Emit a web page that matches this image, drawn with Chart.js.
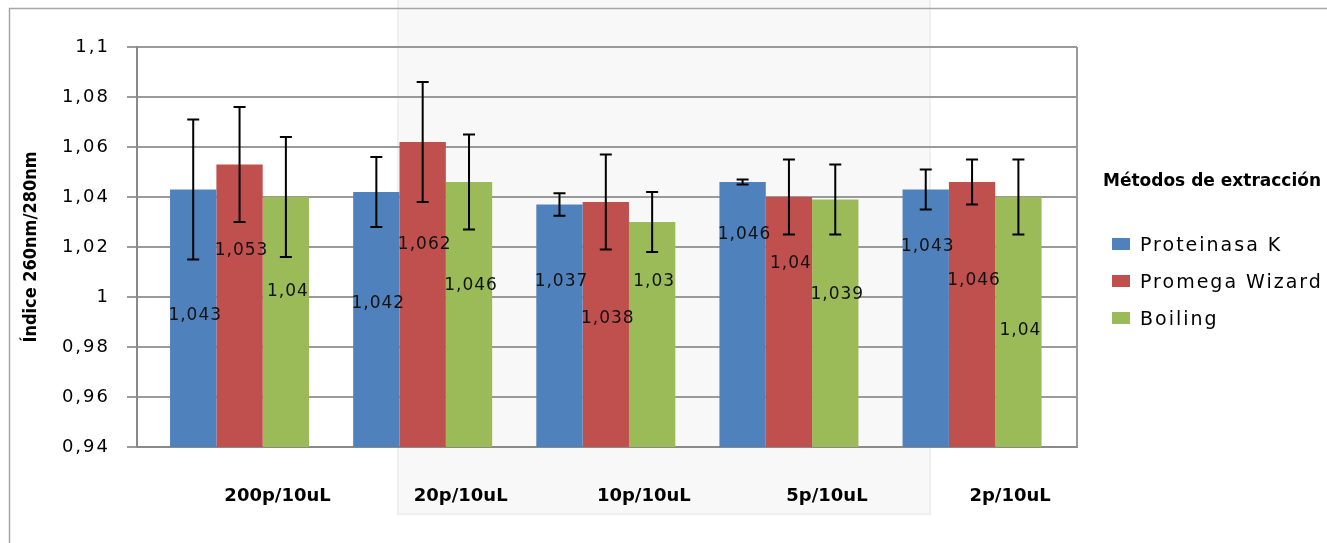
<!DOCTYPE html>
<html lang="es">
<head>
<meta charset="utf-8">
<title>Índice 260nm/280nm</title>
<script src="https://cdn.jsdelivr.net/npm/chart.js"></script>
<style>
  html, body { margin: 0; padding: 0; background: #fff; }
  #wrap { width: 1327px; height: 543px; position: relative; }
</style>
</head>
<body>
<div id="wrap"><canvas id="chart"></canvas></div>
<script>
const categories = ['200p/10uL', '20p/10uL', '10p/10uL', '5p/10uL', '2p/10uL'];
const seriesNames = ['Proteinasa K', 'Promega Wizard', 'Boiling'];
const proteinasaK = [1.043, 1.042, 1.037, 1.046, 1.043];
const promegaWizard = [1.053, 1.062, 1.038, 1.040, 1.046];
const boiling = [1.040, 1.046, 1.030, 1.039, 1.040];
const proteinasaKErr = [0.028, 0.014, 0.0045, 0.001, 0.008];
const promegaWizardErr = [0.023, 0.024, 0.019, 0.015, 0.009];
const boilingErr = [0.024, 0.019, 0.012, 0.014, 0.015];
const yTicks = [0.94, 0.96, 0.98, 1, 1.02, 1.04, 1.06, 1.08, 1.1];
const yTickLabels = ['0,94', '0,96', '0,98', '1', '1,02', '1,04', '1,06', '1,08', '1,1'];

// how far (px) each value label sits below its bar top, as in the original
const labelDrop = [
  [126, 112, 77, 53, 57],
  [86, 103, 117, 67, 99],
  [95, 104, 60, 95, 134]
];

const colors = ['#4F81BD', '#C0504D', '#9BBB59'];
const errors = [proteinasaKErr, promegaWizardErr, boilingErr];
const gridColor = '#9a9a9a';

function toPoints(values) {
  return values.map((v, i) => ({ x: i, y: v }));
}

const decorations = {
  id: 'decorations',
  beforeDraw(chart) {
    const ctx = chart.ctx;
    ctx.save();
    // faint watermark block behind the plot
    ctx.fillStyle = '#f8f8f8';
    ctx.fillRect(398, 0, 532, 514);
    ctx.strokeStyle = '#efefef';
    ctx.lineWidth = 2;
    ctx.strokeRect(398, -2, 532, 516);
    // outer chart frame
    ctx.strokeStyle = '#a6a6a6';
    ctx.lineWidth = 1.5;
    ctx.strokeRect(9.5, 8.5, 1400, 600);
    ctx.restore();

    const y = chart.scales.y;
    if (y && !y._spaced) {
      const orig = y.drawLabels.bind(y);
      y.drawLabels = function (area) {
        const c = this.ctx;
        c.save();
        c.letterSpacing = '2px';
        orig(area);
        c.restore();
      };
      y._spaced = true;
    }
  },
  afterDatasetsDraw(chart) {
    const ctx = chart.ctx;
    const area = chart.chartArea;
    const yScale = chart.scales.y;
    ctx.save();
    // right border of the plot area
    ctx.strokeStyle = gridColor;
    ctx.lineWidth = 2;
    ctx.beginPath();
    ctx.moveTo(area.right, area.top);
    ctx.lineTo(area.right, area.bottom);
    ctx.stroke();

    // error bars
    ctx.strokeStyle = '#000';
    ctx.lineWidth = 2;
    chart.data.datasets.forEach((ds, d) => {
      const meta = chart.getDatasetMeta(d);
      meta.data.forEach((bar, i) => {
        const v = ds.data[i].y;
        const e = errors[d][i];
        const top = yScale.getPixelForValue(v + e);
        const bot = yScale.getPixelForValue(v - e);
        ctx.beginPath();
        ctx.moveTo(bar.x, top);
        ctx.lineTo(bar.x, bot);
        ctx.moveTo(bar.x - 6, top);
        ctx.lineTo(bar.x + 6, top);
        ctx.moveTo(bar.x - 6, bot);
        ctx.lineTo(bar.x + 6, bot);
        ctx.stroke();
      });
    });

    // value labels
    ctx.fillStyle = '#111';
    ctx.font = '17px "DejaVu Sans"';
    ctx.letterSpacing = '1px';
    ctx.textAlign = 'center';
    ctx.textBaseline = 'middle';
    chart.data.datasets.forEach((ds, d) => {
      const meta = chart.getDatasetMeta(d);
      meta.data.forEach((bar, i) => {
        const v = ds.data[i].y;
        const text = String(v).replace('.', ',');
        ctx.fillText(text, bar.x + 2, bar.y + labelDrop[d][i]);
      });
    });
    ctx.restore();
  },
  afterDraw(chart) {
    const ctx = chart.ctx;
    ctx.save();
    ctx.fillStyle = '#000';
    ctx.textBaseline = 'middle';
    ctx.textAlign = 'left';
    ctx.font = 'bold 17px "DejaVu Sans"';
    ctx.fillText('Métodos de extracción', 1103, 182);
    ctx.font = '19px "DejaVu Sans"';
    ctx.letterSpacing = '2px';
    chart.data.datasets.forEach((ds, d) => {
      const cy = 244 + d * 37;
      ctx.fillStyle = ds.backgroundColor;
      ctx.fillRect(1112, cy - 6, 18, 12);
      ctx.fillStyle = '#000';
      ctx.fillText(ds.label, 1140, cy + 2);
    });
    ctx.restore();
  }
};

const ctx = document.getElementById('chart');

new Chart(ctx, {
  type: 'bar',
  data: {
    datasets: [
      { label: seriesNames[0], data: toPoints(proteinasaK), backgroundColor: colors[0] },
      { label: seriesNames[1], data: toPoints(promegaWizard), backgroundColor: colors[1] },
      { label: seriesNames[2], data: toPoints(boiling), backgroundColor: colors[2] }
    ]
  },
  options: {
    responsive: true,
    maintainAspectRatio: false,
    animation: false,
    categoryPercentage: 0.759,
    barPercentage: 1,
    layout: { padding: { left: 0, right: 250, top: 47, bottom: 0 } },
    plugins: {
      legend: { display: false },
      tooltip: { enabled: false }
    },
    scales: {
      x: {
        type: 'linear',
        offset: false,
        min: -0.56,
        max: 4.573,
        afterBuildTicks(s) { s.ticks = categories.map((_, i) => ({ value: i })); },
        afterFit(s) { s.height = 96; },
        ticks: {
          callback: (v) => categories[v],
          autoSkip: false,
          maxRotation: 0,
          labelOffset: 38,
          padding: 39,
          color: '#000',
          font: { family: '"DejaVu Sans"', size: 18, weight: 'bold' }
        },
        grid: { display: false, drawTicks: false },
        border: { display: true, color: '#8a8a8a', width: 2 }
      },
      y: {
        min: 0.94,
        max: 1.1,
        afterBuildTicks(s) { s.ticks = yTicks.map((v) => ({ value: v })); },
        afterFit(s) { s.width = 137; },
        ticks: {
          callback: (v, i) => yTickLabels[i],
          padding: 17,
          color: '#000',
          font: { family: '"DejaVu Sans"', size: 18 }
        },
        grid: { color: gridColor, lineWidth: 2, tickLength: 10, drawTicks: true },
        border: { display: true, color: '#8a8a8a', width: 2 },
        title: {
          display: true,
          text: 'Índice 260nm/280nm',
          color: '#000',
          padding: { top: 21, bottom: 0 },
          font: { family: '"DejaVu Sans Condensed", "Liberation Sans Narrow", "Roboto", sans-serif', size: 18, weight: 'bold' }
        }
      }
    }
  },
  plugins: [decorations]
});
</script>
</body>
</html>
